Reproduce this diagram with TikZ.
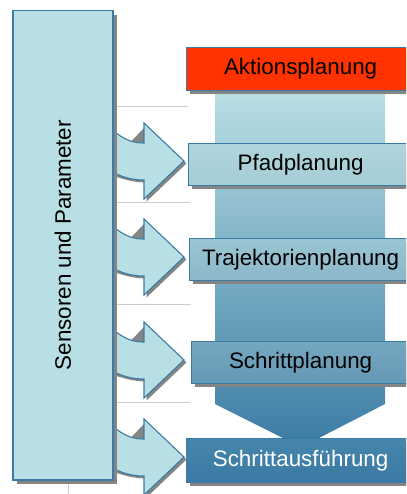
\documentclass[tikz,border=0pt]{standalone}
\usepackage{fontspec}
\setmainfont{Liberation Sans}
\usetikzlibrary{shadows}
\definecolor{bordc}{HTML}{3A7CA5}
\definecolor{lightc}{HTML}{B8DFE3}
\definecolor{redc}{HTML}{FF3300}
\definecolor{shadowc}{HTML}{858585}
\definecolor{sepc}{HTML}{CCCCCC}
\definecolor{colA}{HTML}{B9DEE3}
\definecolor{colB}{HTML}{8DBACB}
\definecolor{colC}{HTML}{3E7EA6}
\definecolor{pfT}{HTML}{AFD5DC}
\definecolor{pfB}{HTML}{A5CDD6}
\definecolor{trT}{HTML}{9BC5D2}
\definecolor{trB}{HTML}{8AB7C9}
\definecolor{scT}{HTML}{75A7C0}
\definecolor{scB}{HTML}{6498B5}
\definecolor{auT}{HTML}{4686AC}
\definecolor{auB}{HTML}{3A7AA3}
\tikzset{
  stage/.style={draw=bordc, line width=1.2pt, anchor=north west, inner sep=0pt,
    font=\fontsize{22.4}{24}\selectfont,
    drop shadow={shadow xshift=3pt, shadow yshift=-3.5pt, opacity=1, fill=shadowc}},
  sepline/.style={draw=sepc, line width=0.7pt},
  blockarrow/.style={fill=lightc},
  arrowedge/.style={draw=bordc, line width=1.1pt, line join=miter},
  arrowshadow/.style={fill=shadowc}
}
\begin{document}
\begin{tikzpicture}[x=1pt,y=-1pt]
\useasboundingbox (0,0) rectangle (406,494);
\clip (0,0) rectangle (406,494);
\fill[white] (0,0) rectangle (406,494);
% separator lines
\draw[sepline] (116,106) -- (188,106);
\draw[sepline] (116,202) -- (190,202);
\draw[sepline] (116,304) -- (191,304);
\draw[sepline] (116,402) -- (190,402);
\draw[sepline] (68,483) -- (68,494);
% column
\shade[top color=colA, middle color=colB, bottom color=colC]
  (215,93) -- (385,93) -- (385,404) -- (319,438) -- (283,438) -- (215,404) -- cycle;
% stages
\node[stage, fill=redc, minimum width=228pt, minimum height=43pt] (akt) at (186,47) {Aktionsplanung};
\node[stage, top color=pfT, bottom color=pfB, minimum width=224pt, minimum height=42pt] (pfad) at (188,143) {Pfadplanung};
\node[stage, top color=trT, bottom color=trB, minimum width=222pt, minimum height=42pt] (traj) at (189,238) {Trajektorienplanung};
\node[stage, top color=scT, bottom color=scB, minimum width=218pt, minimum height=42pt] (schr) at (191,341) {Schrittplanung};
\node[stage, top color=auT, bottom color=auB, minimum width=228pt, minimum height=44pt, text=white] (ausf) at (186,438) {Schrittausführung};
% block arrows
\foreach \t in {161,257,360,457}{
  \begin{scope}[shift={(0,\t)}]
    \fill[arrowshadow] (144+2.5,-38+2.5) -- (184+2.5,0+2.5) -- (144+2.5,38+2.5) -- (144+2.5,19+2.5)
      .. controls (134+2.5,19+2.5) and (124+2.5,17+2.5) .. (112,12+2.5) -- (112,0) -- cycle;
    \fill[blockarrow] (112,-31) .. controls (126,-20) and (134,-18) .. (144,-18) -- (144,-38) -- (184,0)
      -- (144,38) -- (144,19) .. controls (134,19) and (124,17) .. (112,11) -- cycle;
    \draw[arrowedge] (112,-31) .. controls (126,-20) and (134,-18) .. (144,-18) -- (144,-38) -- (184,0)
      -- (144,38) -- (144,19) .. controls (134,19) and (124,17) .. (112,11);
  \end{scope}
}
% sensor box
\node[draw=bordc, line width=1.5pt, fill=lightc, anchor=north west, inner sep=0pt,
  minimum width=100pt, minimum height=469pt,
  drop shadow={shadow xshift=4pt, shadow yshift=-4pt, opacity=1, fill=shadowc}] (sens) at (12,10) {};
\node[rotate=90, font=\fontsize{22.4}{24}\selectfont] (senstext) at (sens.center) {Sensoren und Parameter};
\end{tikzpicture}
\end{document}
